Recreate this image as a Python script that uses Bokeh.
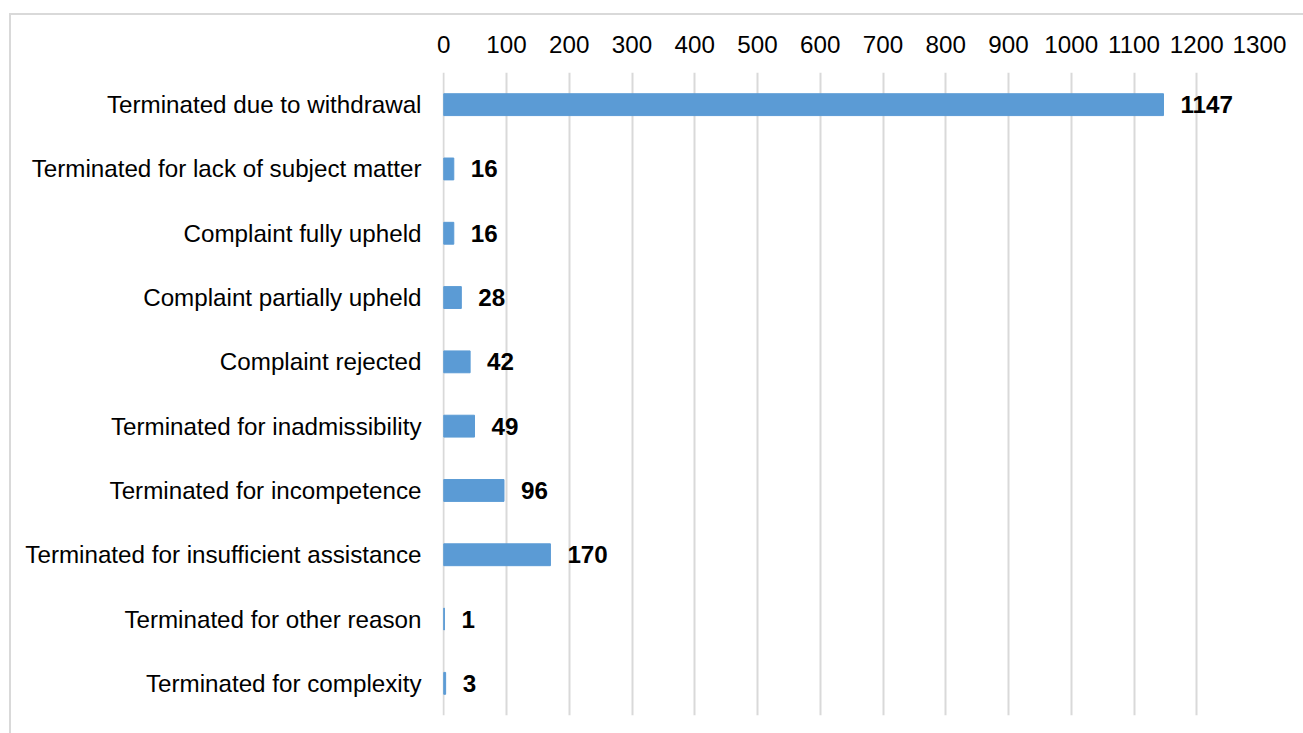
from bokeh.plotting import figure
from bokeh.models import ColumnDataSource, LabelSet, FixedTicker, Range1d, FactorRange
from bokeh.core.properties import value
from bokeh.embed import file_html
from bokeh.resources import INLINE

categories = [
    "Terminated due to withdrawal",
    "Terminated for lack of subject matter",
    "Complaint fully upheld",
    "Complaint partially upheld",
    "Complaint rejected",
    "Terminated for inadmissibility",
    "Terminated for incompetence",
    "Terminated for insufficient assistance",
    "Terminated for other reason",
    "Terminated for complexity",
]
values = [1147, 16, 16, 28, 42, 49, 96, 170, 1, 3]
x_ticks = list(range(0, 1400, 100))

FONT = "Liberation Sans"
FS = "24.2px"

src = ColumnDataSource(dict(cat=categories, val=values, lab=[str(v) for v in values]))

p = figure(
    width=1294, height=720,
    y_range=FactorRange(factors=list(reversed(categories))),
    x_range=Range1d(-2, 1300),
    x_axis_location="above",
    output_backend="svg", toolbar_location=None,
    min_border_left=431, min_border_top=57, min_border_right=46, min_border_bottom=20,
)
p.margin = (13, 0, 0, 9)
p.styles = {"border-left": "2px solid #d9d9d9", "border-top": "2px solid #d9d9d9"}

p.hbar(y="cat", right="val", left=0, height=0.34, source=src, color="#5B9BD5")

labels = LabelSet(x="val", y="cat", text="lab", source=src, x_offset=17,
                  text_baseline="middle", text_align="left",
                  text_font=value(FONT), text_font_size=value(FS),
                  text_font_style="bold", text_color="#000000")
p.add_layout(labels)

p.xaxis.ticker = FixedTicker(ticks=x_ticks)
for ax in (p.xaxis[0], p.yaxis[0]):
    ax.axis_line_color = None
    ax.major_tick_line_color = None
    ax.minor_tick_line_color = None
    ax.major_tick_out = 0
    ax.major_label_text_font = FONT
    ax.major_label_text_font_size = FS
    ax.major_label_text_color = "#000000"
p.xaxis.major_label_standoff = 20
p.yaxis.major_label_standoff = 21

p.xgrid.grid_line_color = "#d9d9d9"
p.xgrid.grid_line_width = 2
p.xgrid.ticker = FixedTicker(ticks=x_ticks)
p.ygrid.grid_line_color = None
p.outline_line_color = None
p.background_fill_color = "white"
p.border_fill_color = "white"

open("out.html", "w").write(file_html(p, INLINE))
